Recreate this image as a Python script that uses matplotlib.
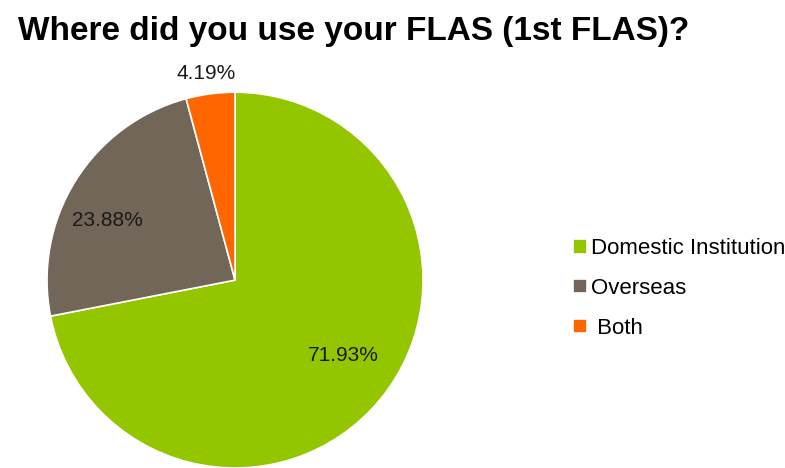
import numpy as np
import matplotlib.pyplot as plt

plt.rcParams["font.family"] = ["Liberation Sans", "DejaVu Sans"]

categories = ["Domestic Institution", "Overseas", " Both"]
shares = [71.93, 23.88, 4.19]
colors = ["#94C600", "#716657", "#FF6600"]

# label placement: radial distance and angular nudge (deg) per slice
label_dist = [0.70, 0.75, 1.11]
label_nudge = [4.5, 7.0, 0.5]

fig = plt.figure(figsize=(7.85, 4.68), dpi=100)
ax = fig.add_axes([0.0599, 0.0, 0.479, 0.803])

wedges, _ = ax.pie(shares, colors=colors, startangle=90, counterclock=False,
                   wedgeprops=dict(edgecolor="white", linewidth=1.2))
ax.set_xlim(-1, 1)
ax.set_ylim(-1, 1)
ax.set_aspect("auto")

for w, val, d, nudge in zip(wedges, shares, label_dist, label_nudge):
    mid = np.deg2rad((w.theta1 + w.theta2) / 2 + nudge)
    ax.text(d * np.cos(mid), d * np.sin(mid), f"{val:.2f}%",
            ha="center", va="center", fontsize=15, color="#1a1a1a")

fig.text(0.023, 0.932, "Where did you use your FLAS (1st FLAS)?",
         fontsize=24, fontweight="bold", ha="left", va="center")

fig.legend(wedges, categories, loc="center left", bbox_to_anchor=(0.705, 0.383),
           frameon=False, fontsize=16, handlelength=0.6, handleheight=0.6,
           handletextpad=0.2, labelspacing=0.85)

fig.savefig("out.png", dpi=100)
